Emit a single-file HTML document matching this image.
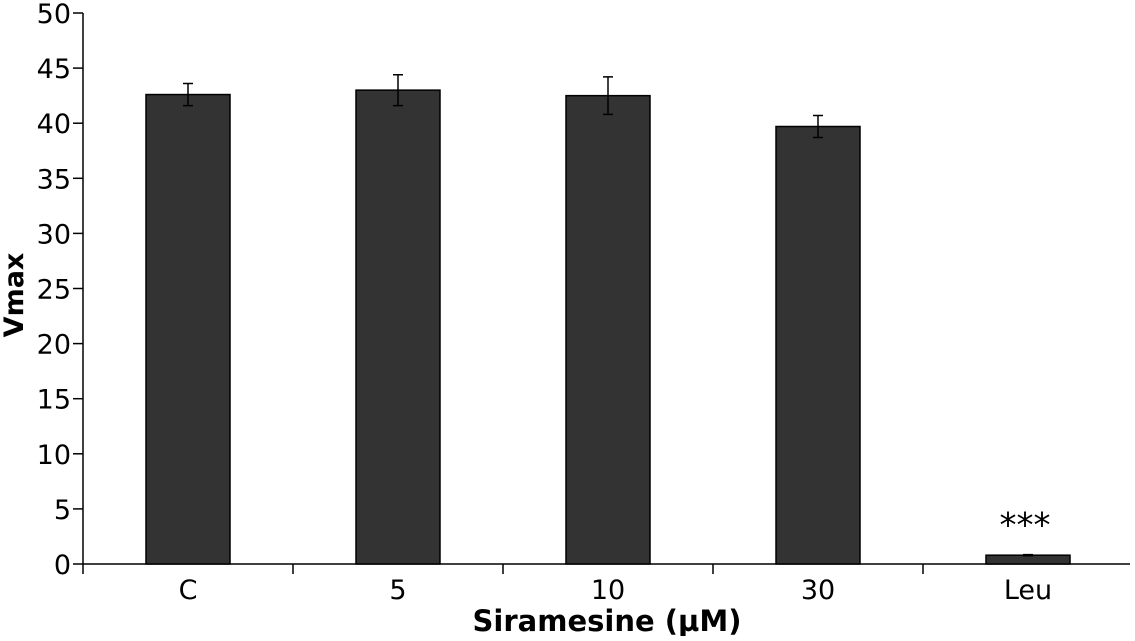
<!DOCTYPE html>
<html><head><meta charset="utf-8"><style>
html,body{margin:0;padding:0;background:#fff;}
svg text{font-family:"DejaVu Sans","Liberation Sans",sans-serif;fill:#000;}
</style></head><body>
<svg id="chart" width="1135" height="636" xmlns="http://www.w3.org/2000/svg"></svg>
<script>
const categories = ["C","5","10","30","Leu"];
const values = [42.6, 43.0, 42.5, 39.7, 0.8];
const errors = [1.0, 1.4, 1.7, 1.0, 0.05];
const yTicks = [0,5,10,15,20,25,30,35,40,45,50];
const stars = ["","","","","***"];

const svg = document.getElementById('chart');
const NS = 'http://www.w3.org/2000/svg';
const x0 = 83, x1 = 1130, y0 = 564, yTop = 13;
const yMax = 50;
const bandW = 210;
function yS(v){ return y0 - (v / yMax) * (y0 - yTop); }
function xC(i){ return x0 + bandW * (i + 0.5); }
function mk(tag, attrs){ const e = document.createElementNS(NS, tag); for (const k in attrs) e.setAttribute(k, attrs[k]); svg.appendChild(e); return e; }

let ax = mk('line', {x1:x0, y1:yTop, x2:x0, y2:y0, stroke:'#000', 'stroke-width':1.5});


let xa = mk('line', {x1:x0, y1:y0, x2:x1, y2:y0, stroke:'#000', 'stroke-width':1.5});



yTicks.forEach(t => {
  const y = yS(t);
  const l = mk('line', {x1:x0-10, y1:y, x2:x0, y2:y, stroke:'#000', 'stroke-width':1.5});
  
  
  const tx = mk('text', {x:71, y:y+10, 'text-anchor':'end', 'font-size':27});
  tx.textContent = t;
  
  
});

for (let i = 0; i < categories.length; i++) {
  const x = x0 + bandW * i;
  const l = mk('line', {x1:x, y1:y0, x2:x, y2:y0+10, stroke:'#000', 'stroke-width':1.5});
  
  
}

categories.forEach((c, i) => {
  const cx = xC(i), w = 84;
  const top = yS(values[i]);
  const r = mk('rect', {x:cx-w/2, y:top, width:w, height:y0-top, fill:'#333', stroke:'#000', 'stroke-width':1.5});
  
  
  const eHi = yS(values[i] + errors[i]), eLo = yS(values[i] - errors[i]);
  const g = mk('path', {d:`M${cx},${eHi}V${eLo}M${cx-5},${eHi}H${cx+5}M${cx-5},${eLo}H${cx+5}`, stroke:'#000', 'stroke-width':1.5, fill:'none'});
  
  
  const lb = mk('text', {x:cx, y:599, 'text-anchor':'middle', 'font-size':27});
  lb.textContent = c;
  
  
  if (stars[i]) {
    const s = mk('text', {x:cx-3, y:eHi-18, 'text-anchor':'middle', 'font-size':34});
    s.textContent = stars[i];
    
    
  }
});

const xt = mk('text', {x:607, y:631, 'text-anchor':'middle', 'font-size':29, 'font-weight':'bold'});
xt.textContent = 'Siramesine (µM)';


const yt = mk('text', {x:0, y:0, 'text-anchor':'middle', 'font-size':27, 'font-weight':'bold', transform:'translate(23,295) rotate(-90)'});
yt.textContent = 'Vmax';


</script>
</body></html>
